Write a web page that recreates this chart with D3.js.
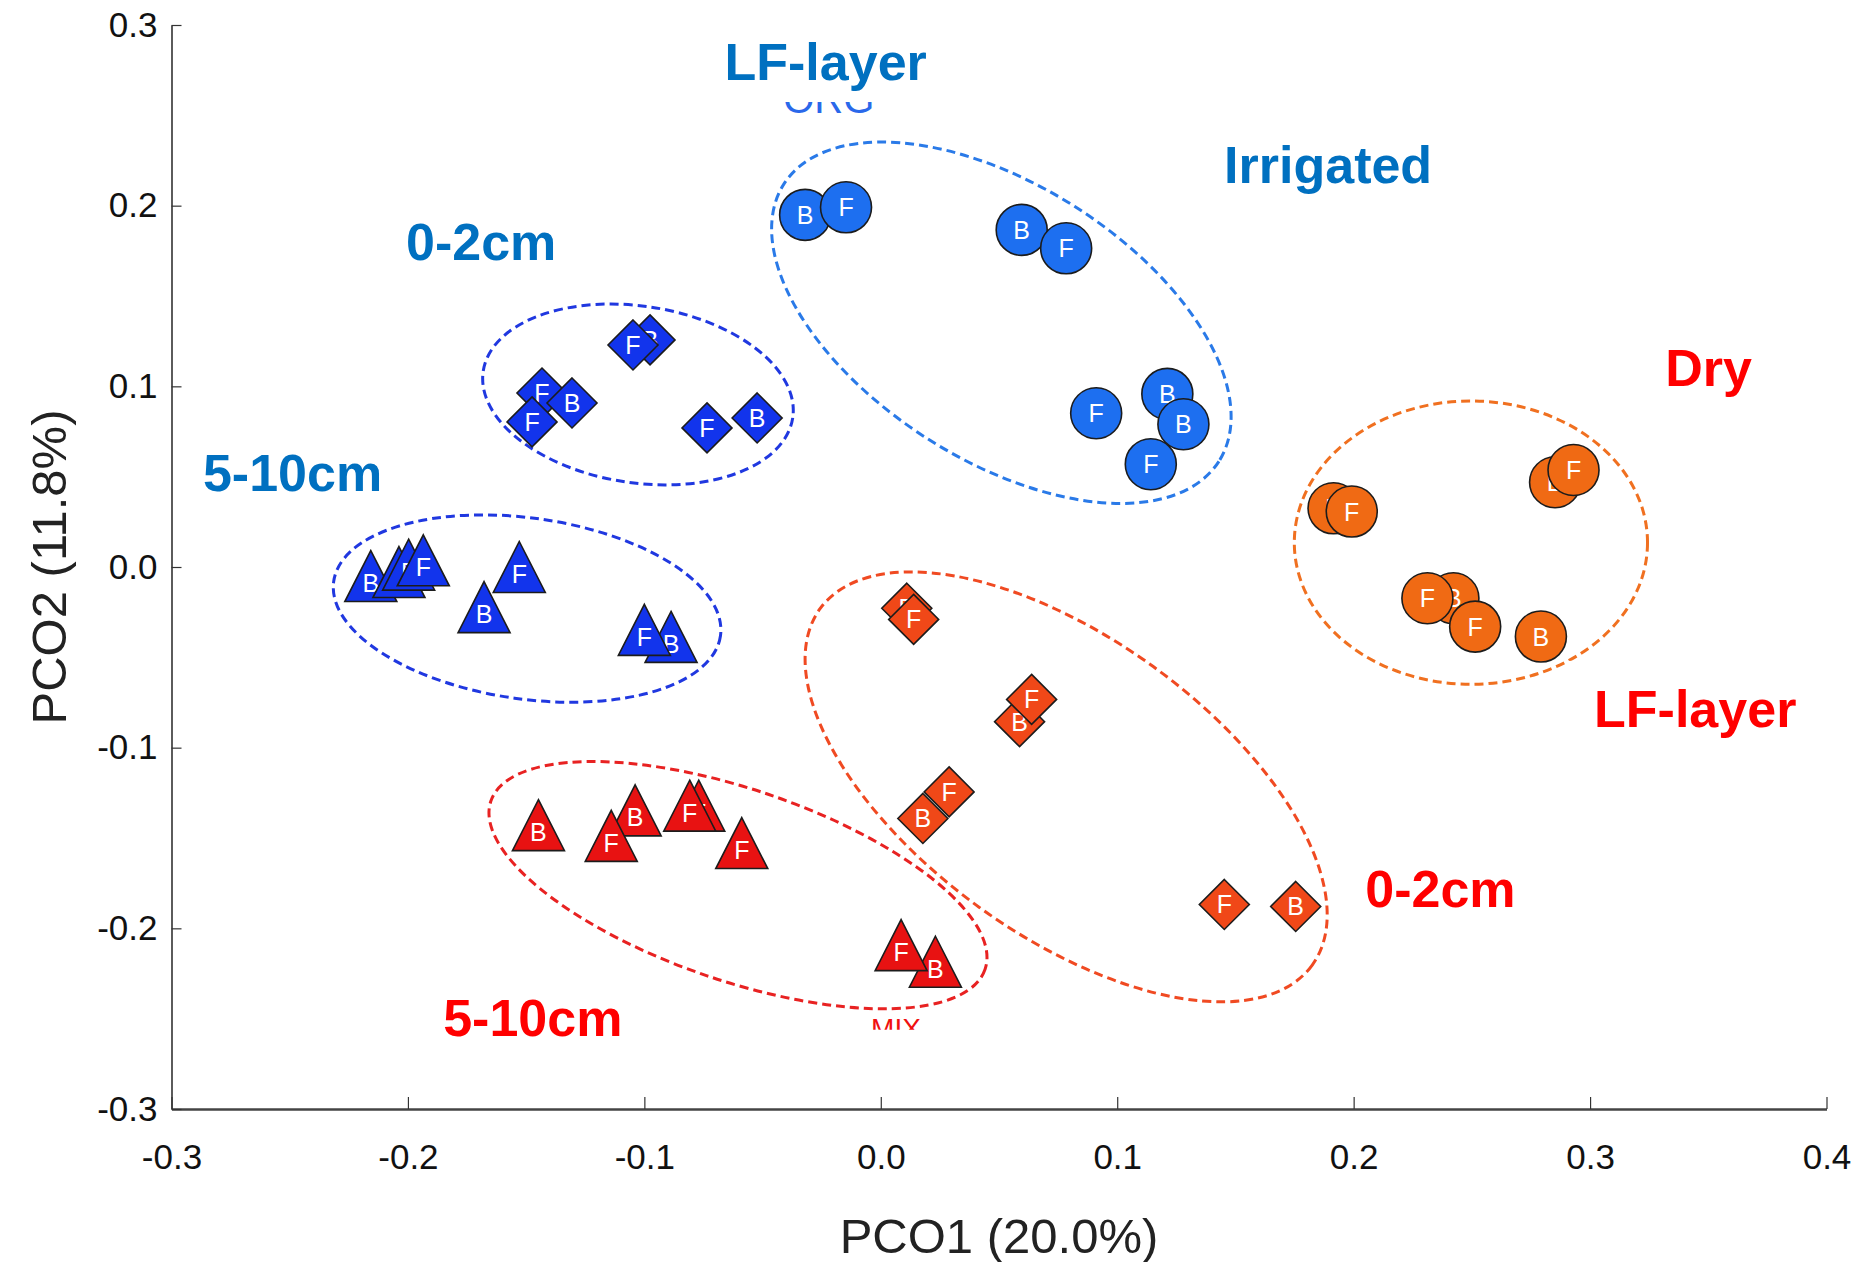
<!DOCTYPE html>
<html>
<head>
<meta charset="utf-8">
<script src="https://cdn.jsdelivr.net/npm/d3@7"></script>
<style>
  body { margin: 0; background: #fff; }
  text { font-family: "Liberation Sans", Arial, Helvetica, sans-serif; }
</style>
</head>
<body>
<script>
// axis ticks
const xTicks = [-0.3, -0.2, -0.1, 0.0, 0.1, 0.2, 0.3, 0.4];
const yTicks = [0.3, 0.2, 0.1, 0.0, -0.1, -0.2, -0.3];

// samples: [PCO1, PCO2, label]  (drawn in this order, later on top)
const irrigatedLF = [
    [-0.0320, 0.1949, "B"], [-0.0147, 0.1991, "F"],
    [0.0596, 0.1866, "B"], [0.0784, 0.1764, "F"],
    [0.0911, 0.0851, "F"], [0.1212, 0.0958, "B"],
    [0.1280, 0.0790, "B"], [0.1142, 0.0569, "F"]
];
const irrigated02 = [
    [-0.0976, 0.1257, "B"], [-0.1048, 0.1229, "F"],
    [-0.1433, 0.0963, "F"], [-0.1306, 0.0908, "B"], [-0.1475, 0.0803, "F"],
    [-0.0735, 0.0770, "F"], [-0.0523, 0.0825, "B"]
];
const irrigated510 = [
    [-0.2157, -0.0050, "B"], [-0.2038, -0.0028, "B"], [-0.1997, 0.0013, "F"], [-0.1935, 0.0037, "F"],
    [-0.1529, 0.0000, "F"], [-0.1678, -0.0222, "B"],
    [-0.0887, -0.0387, "B"], [-0.1000, -0.0348, "F"]
];
const dryLF = [
    [0.1915, 0.0325, "B"], [0.1992, 0.0307, "F"],
    [0.2852, 0.0469, "B"], [0.2930, 0.0537, "F"],
    [0.2422, -0.0173, "B"], [0.2312, -0.0173, "F"], [0.2514, -0.0330, "F"],
    [0.2792, -0.0385, "B"]
];
const dry02 = [
    [0.0110, -0.0228, "B"], [0.0139, -0.0290, "F"],
    [0.0587, -0.0856, "B"], [0.0638, -0.0733, "F"],
    [0.0178, -0.1392, "B"], [0.0289, -0.1245, "F"],
    [0.1453, -0.1868, "F"], [0.1755, -0.1879, "B"]
];
const dry510 = [
    [-0.1448, -0.1429, "B"], [-0.1039, -0.1347, "B"], [-0.1140, -0.1488, "F"],
    [-0.0770, -0.1321, "F"], [-0.0808, -0.1321, "F"], [-0.0588, -0.1528, "F"],
    [0.0231, -0.2185, "B"], [0.0086, -0.2093, "F"]
];

// group ellipses: centre, semi-axes (data units), tilt in degrees
const ellipses = [
    { group: "irrigatedLF", cx: 0.0510, cy: 0.1352, rx: 0.1091, ry: 0.0761, angle: 32.5 },
    { group: "irrigated02", cx: -0.1027, cy: 0.0955, rx: 0.0662, ry: 0.0489, angle: 8.6 },
    { group: "irrigated510", cx: -0.1496, cy: -0.0230, rx: 0.0826, ry: 0.0501, angle: 8 },
    { group: "dryLF", cx: 0.2496, cy: 0.0135, rx: 0.0747, ry: 0.0784, angle: 0 },
    { group: "dry02", cx: 0.0784, cy: -0.1217, rx: 0.1285, ry: 0.0822, angle: 35.9 },
    { group: "dry510", cx: -0.0604, cy: -0.1761, rx: 0.1104, ry: 0.0530, angle: 18.8 }
];

// annotation labels: text, position (data units, start / baseline), side
const annotations = [
    ["LF-layer", -0.0661, 0.2696, "irr"],
    ["Irrigated", 0.1452, 0.2126, "irr"],
    ["0-2cm", -0.2008, 0.1700, "irr"],
    ["5-10cm", -0.2867, 0.0421, "irr"],
    ["Dry", 0.3318, 0.1002, "dry"],
    ["LF-layer", 0.3017, -0.0885, "dry"],
    ["0-2cm", 0.2049, -0.1881, "dry"],
    ["5-10cm", -0.1851, -0.2595, "dry"]
];

// cut-off text left over in the figure
const fragments = [
    ["ORG", -0.0413, 0.2513, "#2a68ea", 40, -11, 3],
    ["MIX", -0.0041, -0.2606, "#f01010", 28, -21, -8]
];

const groups = [
    { name: "irrigatedLF", data: irrigatedLF, shape: "circle", fill: "#1d6ff0", line: "#2a7ae8" },
    { name: "irrigated02", data: irrigated02, shape: "diamond", fill: "#1234ec", line: "#2038e0" },
    { name: "irrigated510", data: irrigated510, shape: "triangle", fill: "#1234ec", line: "#2038e0" },
    { name: "dryLF", data: dryLF, shape: "circle", fill: "#f06a14", line: "#f07020" },
    { name: "dry02", data: dry02, shape: "diamond", fill: "#f04818", line: "#f04a22" },
    { name: "dry510", data: dry510, shape: "triangle", fill: "#e81212", line: "#e82222" }
];
const labelColor = { irr: "#0070c0", dry: "#ff0000" };

const width = 1853, height = 1262;
const svg = d3.select("body").append("svg")
    .attr("width", width)
    .attr("height", height);

const x = d3.scaleLinear().domain([-0.3, 0.4]).range([171.5, 1826.5]);
const y = d3.scaleLinear().domain([-0.3, 0.3]).range([1109, 25]);
const fmt = d => d.toFixed(1);

// axes
const xAxis = svg.append("g")
    .attr("transform", "translate(0," + y(-0.3) + ")")
    .call(d3.axisBottom(x).tickValues(xTicks).tickFormat(fmt).tickSize(-12).tickSizeOuter(0).tickPadding(35));
xAxis.select(".domain").attr("stroke", "#444").attr("stroke-width", 2.5);
xAxis.selectAll(".tick line").attr("stroke", "#333").attr("stroke-width", 1.2);
xAxis.selectAll(".tick text").attr("font-size", 35).attr("fill", "#111")
    .attr("font-family", "'Liberation Sans', Arial, sans-serif");

const yAxis = svg.append("g")
    .attr("transform", "translate(" + x(-0.3) + ",0)")
    .call(d3.axisLeft(y).tickValues(yTicks).tickFormat(fmt).tickSize(-10).tickSizeOuter(0).tickPadding(14));
yAxis.select(".domain").attr("stroke", "#333").attr("stroke-width", 1.6);
yAxis.selectAll(".tick line").attr("stroke", "#333").attr("stroke-width", 1.2);
yAxis.selectAll(".tick text").attr("font-size", 35).attr("fill", "#111")
    .attr("font-family", "'Liberation Sans', Arial, sans-serif");

svg.append("text")
    .attr("x", 999)
    .attr("y", 1253)
    .attr("text-anchor", "middle")
    .attr("font-size", 49)
    .attr("fill", "#222")
    .text("PCO1 (20.0%)");

svg.append("text")
    .attr("transform", "translate(66," + (y(0.3) + y(-0.3)) / 2 + ") rotate(-90)")
    .attr("text-anchor", "middle")
    .attr("font-size", 49)
    .attr("fill", "#222")
    .text("PCO2 (11.8%)");

// dashed group ellipses
const lineOf = {};
groups.forEach(g => lineOf[g.name] = g.line);

svg.append("g").selectAll("ellipse")
    .data(ellipses)
    .enter()
    .append("ellipse")
    .attr("transform", d => "translate(" + x(d.cx) + "," + y(d.cy) + ") rotate(" + d.angle + ")")
    .attr("rx", d => x(d.cx + d.rx) - x(d.cx))
    .attr("ry", d => y(d.cy - d.ry) - y(d.cy))
    .attr("fill", "none")
    .attr("stroke", d => lineOf[d.group])
    .attr("stroke-width", 3)
    .attr("stroke-dasharray", "9,5");

// white patch behind the lower-right label
const lfDry = annotations[5];
svg.append("rect")
    .attr("x", x(lfDry[1]) - 29)
    .attr("y", y(lfDry[2]) - 66)
    .attr("width", 250)
    .attr("height", 90)
    .attr("fill", "#fff");

// markers
const R = 25.5;
function shapePath(shape) {
    if (shape === "diamond") return "M0,-25L25,0L0,25L-25,0Z";
    if (shape === "triangle") return "M0,-25.5L26,25.5L-26,25.5Z";
    return null;
}

groups.forEach(g => {
    const pts = svg.append("g").selectAll("g")
        .data(g.data)
        .enter()
        .append("g")
        .attr("transform", d => "translate(" + x(d[0]) + "," + y(d[1]) + ")");

    if (g.shape === "circle") {
        pts.append("circle").attr("r", R);
    } else {
        pts.append("path").attr("d", shapePath(g.shape));
    }
    pts.select(":first-child")
        .attr("fill", g.fill)
        .attr("stroke", "#1c1c1c")
        .attr("stroke-width", 1.6);

    pts.append("text")
        .attr("y", g.shape === "triangle" ? 7 : 0)
        .attr("dy", "0.36em")
        .attr("text-anchor", "middle")
        .attr("font-size", 25)
        .attr("fill", "#fff")
        .text(d => d[2]);
});

// group labels
svg.append("g").selectAll("text")
    .data(annotations)
    .enter()
    .append("text")
    .attr("x", d => x(d[1]))
    .attr("y", d => y(d[2]))
    .attr("font-size", 52)
    .attr("font-weight", "bold")
    .attr("fill", d => labelColor[d[3]])
    .text(d => d[0]);

// clipped leftovers
const defs = svg.append("defs");
fragments.forEach((f, i) => {
    const bx = x(f[1]), by = y(f[2]);
    defs.append("clipPath").attr("id", "frag" + i)
        .append("rect")
        .attr("x", bx - 5)
        .attr("y", by + f[5])
        .attr("width", 120)
        .attr("height", f[6] - f[5]);
    svg.append("text")
        .attr("clip-path", "url(#frag" + i + ")")
        .attr("x", bx)
        .attr("y", by)
        .attr("font-size", f[4])
        .attr("fill", f[3])
        .text(f[0]);
});
</script>
</body>
</html>
